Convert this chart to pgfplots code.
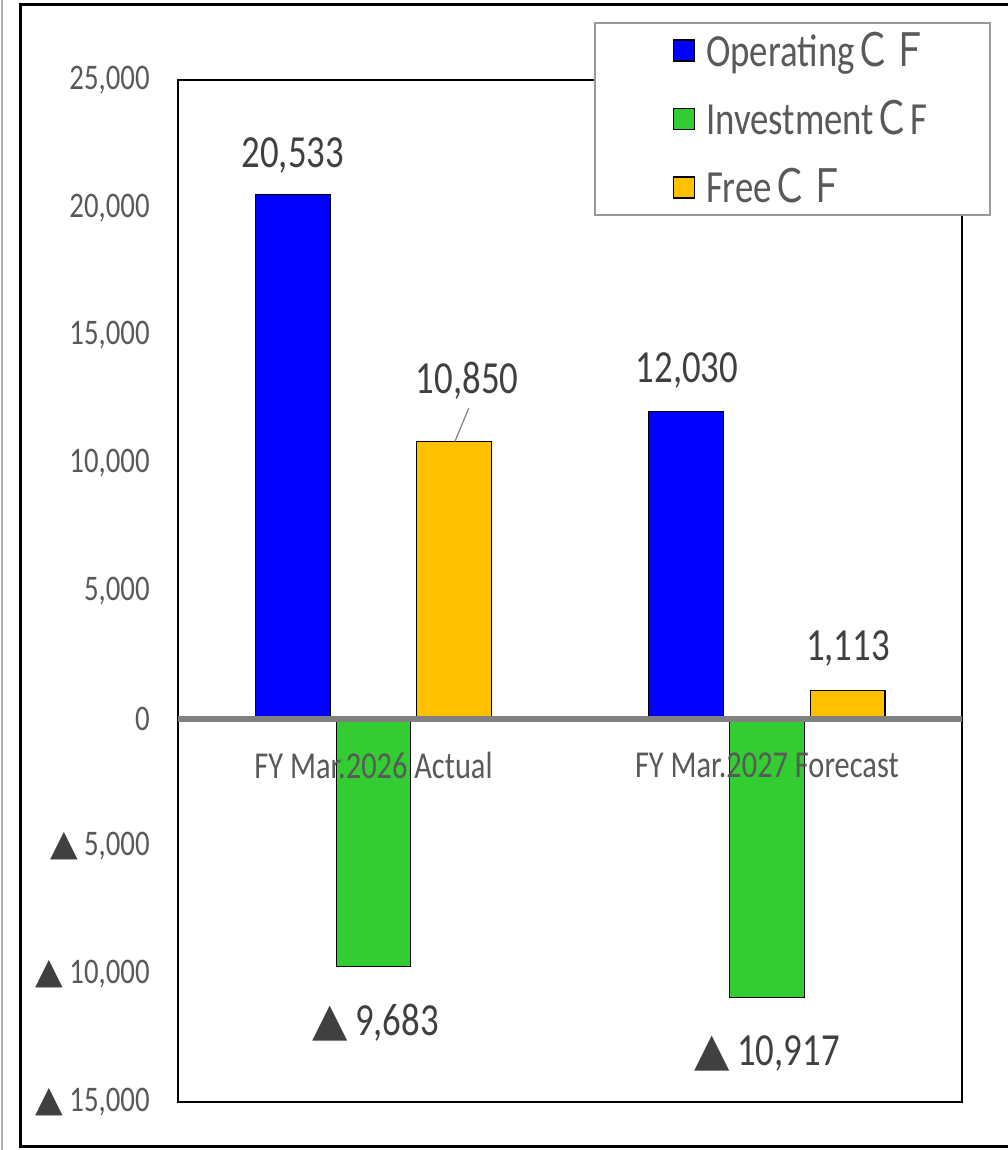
\documentclass[border=0pt]{standalone}
\usepackage{fontspec}
\setmainfont{Carlito}[FakeStretch=0.8]
\newfontfamily\sym{DejaVu Sans}
\newfontfamily\cjk{Noto Sans CJK JP}[FakeStretch=0.8]
\usepackage{pgfplots}
\pgfplotsset{compat=1.18}
\definecolor{opblue}{HTML}{0000FF}
\definecolor{invgreen}{HTML}{33CC33}
\definecolor{freeorange}{HTML}{FFC000}
\definecolor{txtgray}{HTML}{595959}
\definecolor{lblgray}{HTML}{404040}
\definecolor{zerogray}{HTML}{808080}
\pgfplotsset{
  mybar/.style={ybar, bar width=0.19, draw=black, line width=0.6pt,
    legend image code/.code={\draw[##1,draw=black,line width=0.8pt] (0pt,-5.25pt) rectangle (10.5pt,5.25pt); \path (14pt,0pt) (-10pt,0pt);}},
}
\newcommand{\tri}{{\sym\color{lblgray}▲}\,}
\begin{document}
\begin{tikzpicture}
\useasboundingbox (-89pt,-24pt) rectangle (414.5pt,551pt);
\begin{axis}[
  at={(0pt,0pt)}, anchor=south west,
  scale only axis, width=392pt, height=511pt,
  xmin=-0.497, xmax=1.496, ymin=-15000, ymax=25000,
  scaled y ticks=false,
  xtick=\empty,
  ytick={-15000,-10000,-5000,0,5000,10000,15000,20000,25000},
  yticklabels={{\tri 15,000},{\tri 10,000},{\tri 5,000},{0},{5,000},{10,000},{15,000},{20,000},{25,000}},
  major tick length=0pt,
  yticklabel style={anchor=east, inner sep=0pt, xshift=-14pt, text=txtgray, font=\fontsize{18}{20}\selectfont},
  axis line style={black, line width=0.8pt},
  clip=false,
  legend style={at={(axis description cs:0.5306,1.0568)}, anchor=north west,
    draw=gray!80, line width=0.9pt, fill=white, inner xsep=29pt, inner ysep=2.5pt,
    row sep=11.5pt, font=\fontsize{23}{25}\selectfont, text=txtgray},
  legend cell align=left,
]
\addplot[mybar, bar shift=-0.205, fill=opblue] coordinates {(0,20533) (1,12030)};
\addlegendentry{Operating{\cjk ＣＦ}}
\addplot[mybar, bar shift=0, fill=invgreen] coordinates {(0,-9683) (1,-10917)};
\addlegendentry{Investment{\cjk Ｃ}F}
\addplot[mybar, bar shift=0.205, fill=freeorange] coordinates {(0,10850) (1,1113)};
\addlegendentry{Free{\cjk ＣＦ}}
\draw[zerogray, line width=3pt] (axis cs:-0.497,0) -- (axis cs:1.496,0);
\node[text=txtgray, font=\fontsize{19}{21}\selectfont] at (axis cs:0,-1840) {FY Mar.2026 Actual};
\node[text=txtgray, font=\fontsize{19}{21}\selectfont] at (axis cs:1,-1840) {FY Mar.2027 Forecast};
\draw[gray, line width=0.6pt] (axis cs:0.207,10850) -- (axis cs:0.242,12150);
\begin{scope}[every node/.style={text=lblgray, font=\fontsize{23}{25}\selectfont}]
\node at (axis cs:-0.205,22035) {20,533};
\node at (axis cs:0.238,13229) {10,850};
\node at (axis cs:0.797,13620) {12,030};
\node at (axis cs:1.206,2740) {1,113};
\node at (axis cs:0.005,-11898) {\tri 9,683};
\node at (axis cs:1.0,-13111) {\tri 10,917};
\end{scope}
\end{axis}
\draw[black, line width=1.5pt] (420pt,548.5pt) -- (-78.75pt,548.5pt) -- (-78.75pt,-22.25pt) -- (420pt,-22.25pt);
\draw[gray!60, line width=0.6pt] (-88pt,-30pt) -- (-88pt,560pt);
\end{tikzpicture}
\end{document}
